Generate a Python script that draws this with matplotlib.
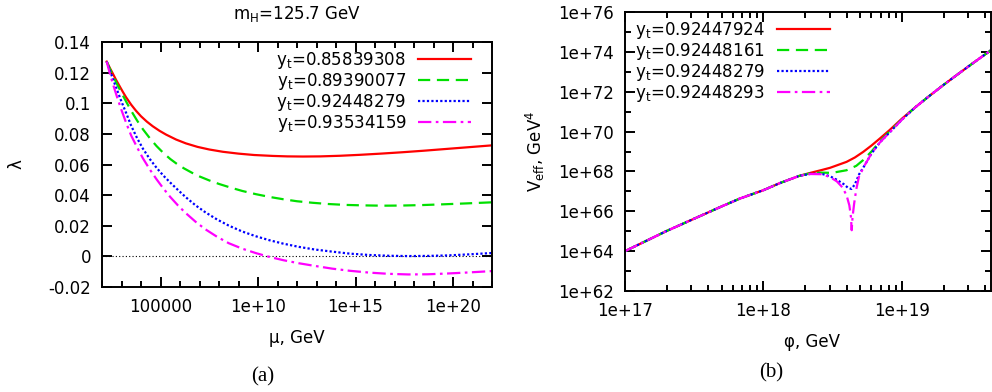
import numpy as np
import matplotlib
matplotlib.use('Agg')
import matplotlib.pyplot as plt
from matplotlib.ticker import FixedLocator, FuncFormatter, NullFormatter

plt.rcParams['font.family'] = ['DejaVu Sans']
plt.rcParams['mathtext.default'] = 'regular'
plt.rcParams['font.size'] = 12

# (a) running Higgs self-coupling: log10(mu/GeV) and lambda
yt_a = ['0.85839308', '0.89390077', '0.92448279', '0.93534159']

logmu_red = [2.24, 2.40, 2.55, 2.72, 2.90, 3.07, 3.24, 3.50, 3.75, 4.00,
             4.30, 4.60, 4.95, 5.29, 5.80, 6.30, 6.90, 7.50, 8.20, 9.00,
             9.80, 10.76, 11.5, 12.3, 13.2, 14.2, 15.2, 16.3, 17.4, 18.5,
             19.6, 20.8, 22.0]
lam_red = [0.1272, 0.1231, 0.1195, 0.1153, 0.1112, 0.1074, 0.1038, 0.0990,
           0.0950, 0.0915, 0.0880, 0.0850, 0.0820, 0.0795, 0.0763, 0.0738,
           0.0715, 0.0698, 0.0683, 0.0671, 0.0662, 0.0656, 0.0653, 0.0652,
           0.0653, 0.0657, 0.0663, 0.0671, 0.0680, 0.0690, 0.0701, 0.0713,
           0.0725]

logmu_green = [2.24, 2.40, 2.60, 2.80, 3.00, 3.25, 3.50, 3.80, 4.10, 4.45,
               4.80, 5.15, 5.50, 5.85, 6.20, 6.60, 7.00, 7.50, 8.00, 8.60,
               9.20, 9.90, 10.60, 11.30, 12.00, 12.80, 13.60, 14.50, 15.40,
               16.40, 17.40, 18.40, 19.50, 20.7, 22.0]
lam_green = [0.1272, 0.1225, 0.1170, 0.1118, 0.1068, 0.1008, 0.0950, 0.0887,
             0.0830, 0.0772, 0.0720, 0.0675, 0.0636, 0.0603, 0.0575, 0.0547,
             0.0522, 0.0496, 0.0473, 0.0449, 0.0427, 0.0406, 0.0388, 0.0373,
             0.0360, 0.0350, 0.0342, 0.0336, 0.0333, 0.0331, 0.0332, 0.0335,
             0.0340, 0.0346, 0.0353]

logmu_blue = [2.24, 2.40, 2.60, 2.80, 3.00, 3.25, 3.50, 3.80, 4.10, 4.45,
              4.80, 5.15, 5.50, 5.90, 6.30, 6.80, 7.30, 7.90, 8.50, 9.20,
              9.90, 10.60, 11.30, 12.10, 12.90, 13.80, 14.70, 15.70, 16.70,
              17.70, 18.70, 19.70, 20.8, 22.0]
lam_blue = [0.1272, 0.1215, 0.1145, 0.1077, 0.1010, 0.0933, 0.0852, 0.0772,
            0.0703, 0.0636, 0.0578, 0.0527, 0.0482, 0.0433, 0.0386, 0.0333,
            0.0288, 0.0241, 0.0201, 0.0162, 0.0131, 0.0105, 0.0083, 0.0062,
            0.0045, 0.0031, 0.0018, 0.0009, 0.0004, 0.0002, 0.0003, 0.0006,
            0.0013, 0.0022]

logmu_magenta = [2.24, 2.40, 2.60, 2.80, 3.00, 3.25, 3.50, 3.80, 4.10, 4.45,
                 4.80, 5.15, 5.50, 5.90, 6.30, 6.80, 7.30, 7.90, 8.50, 9.20,
                 9.90, 10.60, 11.30, 12.10, 12.90, 13.80, 14.70, 15.70, 16.70,
                 17.70, 18.70, 19.70, 20.8, 22.0]
lam_magenta = [0.1272, 0.1195, 0.1110, 0.1030, 0.0955, 0.0868, 0.0788, 0.0712,
               0.0640, 0.0568, 0.0503, 0.0443, 0.0388, 0.0332, 0.0282, 0.0226,
               0.0177, 0.0128, 0.0086, 0.0050, 0.0021, -0.0004, -0.0025,
               -0.0045, -0.0062, -0.0080, -0.0094, -0.0106, -0.0114, -0.0118,
               -0.0117, -0.0112, -0.0105, -0.0096]

# (b) effective potential: log10(phi/GeV) and log10(V_eff/GeV^4)
yt_b = ['0.92447924', '0.92448161', '0.92448279', '0.92448293']

# all four curves coincide below ~2e18 GeV and above ~1e19 GeV
logphi_low = [17.0, 17.30, 17.50, 17.69, 17.83, 18.0, 18.12, 18.26]
logV_low = [64.0, 65.01, 65.63, 66.22, 66.64, 67.06, 67.42, 67.78]
logphi_high = [19.1, 19.2, 19.3, 19.4, 19.5, 19.65]
logV_high = [71.24, 71.80, 72.34, 72.86, 73.37, 74.12]

logphi_mid_red = [18.34, 18.42, 18.48, 18.60, 18.66, 18.72, 18.78, 18.84, 18.91, 19.0]
logV_mid_red = [67.93, 68.07, 68.18, 68.48, 68.70, 68.98, 69.30, 69.65, 70.07, 70.65]

logphi_mid_green = [18.34, 18.42, 18.48, 18.52, 18.60, 18.67, 18.72, 18.78, 18.84, 18.91, 19.0]
logV_mid_green = [67.91, 67.94, 67.93, 67.96, 68.06, 68.28, 68.57, 69.0, 69.5, 70.0, 70.62]

logphi_mid_blue = [18.34, 18.42, 18.48, 18.53, 18.58, 18.61, 18.635, 18.66, 18.69,
                   18.73, 18.78, 18.84, 18.91, 19.0]
logV_mid_blue = [67.88, 67.88, 67.76, 67.58, 67.36, 67.18, 67.12, 67.35, 67.85,
                 68.30, 68.90, 69.45, 69.95, 70.60]

logphi_mid_magenta = [18.34, 18.42, 18.48, 18.53, 18.57, 18.60, 18.62, 18.632, 18.637,
                      18.643, 18.655, 18.67, 18.69, 18.73, 18.78, 18.84, 18.91, 19.0]
logV_mid_magenta = [67.87, 67.86, 67.72, 67.50, 67.20, 66.80, 66.30, 65.70, 65.05,
                    65.70, 66.40, 67.10, 67.75, 68.30, 68.90, 69.45, 69.95, 70.60]

colors = ['#ff0000', '#00e000', '#0000ff', '#ff00ff']
styles = ['-', (0, (5.5, 3)), (0, (1, 1)), (0, (6, 2, 1.2, 2))]


def gnu_exp(v, pos):
    return '1e+%d' % round(np.log10(v))


fig = plt.figure(figsize=(9.92, 3.92), dpi=100)
ax1 = fig.add_axes([102 / 992, 1 - 287 / 392, 390 / 992, 245 / 392])
ax2 = fig.add_axes([625 / 992, 1 - 291 / 392, 366 / 992, 279 / 392])

# ---- panel (a)
series_a = [(logmu_red, lam_red), (logmu_green, lam_green),
            (logmu_blue, lam_blue), (logmu_magenta, lam_magenta)]
ax1.axhline(0, color='black', lw=0.8, ls=(0, (1, 2)))
for (lm, lam), c, s, yt in zip(series_a, colors, styles, yt_a):
    ax1.plot(10 ** np.array(lm), lam, color=c, ls=s, lw=1.6,
             label='y$_t$=' + yt)
ax1.set_xscale('log')
ax1.set_xlim(1e2, 1e22)
ax1.set_ylim(-0.02, 0.14)
ax1.xaxis.set_major_locator(FixedLocator([1e5, 1e10, 1e15, 1e20]))
ax1.xaxis.set_major_formatter(FuncFormatter(
    lambda v, p: '100000' if v < 1e6 else gnu_exp(v, p)))
ax1.xaxis.set_minor_locator(FixedLocator(10.0 ** np.arange(2, 23)))
ax1.xaxis.set_minor_formatter(NullFormatter())
ax1.yaxis.set_major_locator(FixedLocator(np.arange(-0.02, 0.141, 0.02)))
ax1.yaxis.set_major_formatter(FuncFormatter(
    lambda v, p: '%g' % round(v, 2)))
ax1.set_xlabel('μ, GeV')
ax1.set_ylabel('λ')
ax1.xaxis.set_label_coords(0.5, -0.208)
ax1.xaxis.label.set_va('center')
ax1.yaxis.set_label_coords(-0.218, 0.5)
ax1.yaxis.label.set_va('center')
ax1.legend(loc='upper right', bbox_to_anchor=(0.946, 0.967), frameon=False,
           markerfirst=False, handlelength=3.2, handletextpad=0.7,
           labelspacing=0.0, borderpad=0, borderaxespad=0, fontsize=12)

# ---- panel (b)
mids = [(logphi_mid_red, logV_mid_red), (logphi_mid_green, logV_mid_green),
        (logphi_mid_blue, logV_mid_blue), (logphi_mid_magenta, logV_mid_magenta)]
for (mp, mv), c, s, yt in zip(mids, colors, styles, yt_b):
    lp = np.concatenate([logphi_low, mp, logphi_high])
    lv = np.concatenate([logV_low, mv, logV_high])
    ax2.plot(10 ** lp, 10 ** lv, color=c, ls=s, lw=1.6, label='y$_t$=' + yt)
ax2.set_xscale('log')
ax2.set_yscale('log')
ax2.set_xlim(1e17, 10 ** 19.643)
ax2.set_ylim(1e62, 1e76)
ax2.xaxis.set_major_locator(FixedLocator([1e17, 1e18, 1e19]))
ax2.xaxis.set_major_formatter(FuncFormatter(gnu_exp))
ax2.xaxis.set_minor_locator(FixedLocator(
    [k * 10.0 ** e for e in (17, 18, 19) for k in range(2, 10)]))
ax2.xaxis.set_minor_formatter(NullFormatter())
ax2.yaxis.set_major_locator(FixedLocator(10.0 ** np.arange(62, 77, 2)))
ax2.yaxis.set_major_formatter(FuncFormatter(gnu_exp))
ax2.yaxis.set_minor_locator(FixedLocator(10.0 ** np.arange(63, 76, 2)))
ax2.yaxis.set_minor_formatter(NullFormatter())
ax2.set_xlabel('φ, GeV')
ax2.set_ylabel('V$_{eff}$, GeV$^4$')
ax2.xaxis.set_label_coords(0.51, -0.183)
ax2.xaxis.label.set_va('center')
ax2.yaxis.set_label_coords(-0.246, 0.5)
ax2.yaxis.label.set_va('center')
ax2.legend(loc='upper left', bbox_to_anchor=(0.027, 0.971), frameon=False,
           markerfirst=False, handlelength=3.2, handletextpad=0.7,
           labelspacing=0.0, borderpad=0, borderaxespad=0, fontsize=12)

for ax in (ax1, ax2):
    for sp in ax.spines.values():
        sp.set_linewidth(1.4)
    ax.tick_params(which='both', direction='in', top=True, right=True,
                   width=1.4, labelsize=12, pad=8)
    ax.tick_params(which='major', length=7)
    ax.tick_params(which='minor', length=4)

fig.text(297 / 992, 1 - 14 / 392, 'm$_H$=125.7 GeV', ha='center', va='center',
         fontsize=12)
fig.text(263 / 992, 1 - 377 / 392, '(a)', ha='center', va='center',
         family='Liberation Serif', fontsize=15)
fig.text(771 / 992, 1 - 373 / 392, '(b)', ha='center', va='center',
         family='Liberation Serif', fontsize=15)

fig.savefig('out.png', dpi=100)
